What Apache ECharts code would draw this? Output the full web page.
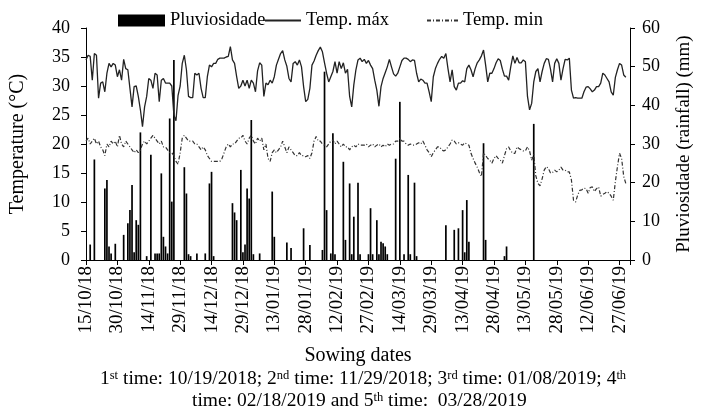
<!DOCTYPE html>
<html><head><meta charset="utf-8">
<script src="https://cdn.jsdelivr.net/npm/echarts@6/dist/echarts.min.js"></script>
<style>html,body{margin:0;padding:0;background:#fff}#c{width:702px;height:410px}</style>
</head><body><div id="c"></div>
<script>
// x-axis tick labels, one every 15 days from 15/10/18
const tickLabels = ['15/10/18','30/10/18','14/11/18','29/11/18','14/12/18','29/12/18','13/01/19','28/01/19','12/02/19','27/02/19','14/03/19','29/03/19','13/04/19','28/04/19','13/05/19','28/05/19','12/06/19','27/06/19'];

// daily maximum temperature (°C), day 0 = 15/10/18
const tmax = [
34.5,35.3,35.1,31.0,35.6,35.3,27.9,30.5,30.7,29.0,
32.2,33.9,33.3,33.9,33.6,31.6,32.8,31.0,34.6,33.0,
32.8,29.6,26.4,29.9,30.0,28.2,25.9,23.0,26.4,28.2,
31.3,31.0,29.6,32.2,31.9,27.3,31.0,31.3,30.5,30.5,
30.5,30.0,25.0,24.0,28.4,30.0,33.9,35.3,32.8,28.2,
28.0,28.0,32.2,31.9,32.2,29.6,28.0,28.0,31.6,33.6,
33.3,33.9,33.9,34.6,34.8,34.8,34.8,35.0,35.1,36.8,
34.5,33.9,31.6,29.6,30.0,31.0,30.0,31.0,29.6,31.0,
30.5,29.0,32.6,34.0,33.6,28.2,30.5,30.2,31.0,30.5,
31.6,33.6,34.6,35.6,36.1,34.5,33.4,31.3,30.7,33.9,
34.2,33.6,34.5,33.3,29.9,27.3,27.7,29.6,33.6,34.3,
35.3,36.1,36.7,35.9,34.0,32.2,30.7,31.6,32.5,34.2,
32.2,34.2,33.0,34.0,32.2,32.9,28.2,26.4,30.2,32.8,
34.5,34.8,34.2,34.6,33.9,34.4,33.6,33.0,31.0,29.3,
26.5,29.9,31.3,32.3,33.3,34.6,33.3,32.1,31.7,32.2,
33.3,34.4,34.8,34.8,34.6,34.2,34.5,34.4,32.2,30.7,
31.2,31.0,30.5,30.5,29.0,27.3,31.6,33.0,33.9,34.6,
35.1,34.8,35.6,33.0,30.7,32.8,29.9,29.3,30.5,30.5,
30.9,30.7,33.0,33.6,32.8,31.6,33.0,34.0,34.5,35.2,
36.2,33.6,30.7,32.2,32.2,33.0,34.0,34.7,34.4,32.9,
31.7,31.7,31.0,33.3,35.2,33.9,34.9,34.0,34.0,34.5,
34.2,28.2,25.9,27.0,30.7,32.5,33.0,30.7,32.5,33.9,
34.7,34.6,32.9,30.7,33.9,34.7,33.9,31.0,33.0,34.6,
34.5,34.8,29.3,27.9,28.0,27.9,27.9,27.9,29.0,29.8,
29.9,29.5,29.0,29.3,29.9,29.9,30.5,32.2,31.9,31.3,
30.7,29.0,28.4,31.5,32.8,33.9,33.6,31.9,31.5];

// daily minimum temperature (°C)
const tmin = [
20.5,21,20,20.5,21,20,20.5,19.5,19,18,
20,19.5,20.5,20,20.5,19.5,21.5,20,19.5,20.5,
20,19.5,19,18.5,19,18.5,19,20,20.5,20,
20.5,21,21.5,21,20.5,20,20.5,19.5,19.5,19,
18.5,18.5,18,17,16.5,18.5,21,21.5,21,20.5,
20.5,20.5,20,20,19.5,19,19.5,19,18,17.5,
17,17,17,17,17,17.5,18.5,19.5,20,19.5,
20,20,20.5,21,21,21.5,20.5,20,21,21.5,
20.5,20,21,20.5,21,19,20,17.5,17,18.5,
19,18.5,19,19.5,20.5,19.5,18.5,19.5,19,18.5,
18,18,18.5,18,18,17.8,18,17.5,18.5,20.5,
21.3,20.5,20.5,20,19.8,19.5,20,20.5,20.7,20,
20.5,20,19.5,20,19.5,19.5,19,19.5,19.8,19.5,
20,19.8,19.8,19.8,20,19.5,19.8,20,19.5,19.8,
20,19.5,19.8,19.5,20,19.8,20,20,20.5,20.5,
21,20.5,20.5,20,19.8,20,19.8,19.8,20,20.2,
20,20.5,19.8,19,18.5,17.8,18.5,19,19.5,19.5,
19,18.8,19,19.5,20,20.7,20.5,20,20.2,20,
19.8,20.2,20,19.8,18.4,17.5,16.7,16,15.1,14.4,
18.5,18,17.5,17.2,16.7,17.5,18,17.5,17.2,16.7,
18,19.2,19.5,18.8,18.4,18.4,19.5,19.2,19,18.8,
18.8,19.5,18.8,17.2,18.2,14.5,13.2,12.8,14,15.5,
16.1,15.8,15,15.1,15.5,15.2,15.5,16,15.5,15.5,
15.2,15.2,13.8,10.3,10,11.2,12,12.1,12.4,12.3,
11.5,12.5,12.6,11.8,12.3,12.6,11,11.3,11.5,11.8,
11.5,11,10.3,13.5,16.1,18.4,17.5,14.4,13.2];

// daily rainfall (mm)
const rain = [
0,0,4,0,26,0,0,0,0,18.5,
20.7,3.5,1.7,0,4.2,0,0,0,6.5,0,
9.5,12.9,19.4,2,10.3,9.1,33,0,0,1,
0,27.2,0,1.7,1.7,1.7,22.4,6,3.5,1.7,
36.6,15.1,51.7,0,0,0,0,24,17.2,1.5,
1,0,0,1.7,0,0,0,1.7,0,19.8,
22.8,1,0,0,0,0,0,0,0,0,
14.7,12.3,10.3,0,23.3,2,4,18.5,15.9,36.2,
1.5,0,0,1.7,0,0,0,0,0,17.7,
6,0,0,0,0,0,4.5,0,3.1,0,
0,0,0,0,8.2,0,0,3.9,0,0,
0,0,0,2.6,48.7,12.9,0,1.7,32.8,1.5,
0,0,0,25.4,5.2,0,19.8,1.5,11.2,0,
20,1.5,0,0,0,1.5,13.4,1.5,0,10.3,
1.5,4.7,4.3,3.5,1.5,0,0,0,26.2,0,
40.9,0,1.5,0,22,1.5,0,20,1,0,
0,0,0,0,0,0,0,0,0,0,
0,0,9,0,0,0,7.8,0,8.2,0,
12.9,2,15.5,4.7,0,0,0,0,0,0,
30.2,5.2,0,0,0,0,0,0,0,0,
1,3.5,0,0,0,0,0,0,0,0,
0,0,0,0,35.2,0,0,0,0,0,
0,0,0,0,0,0,0,0,0,0,
0,0,0,0,0,0,0,0,0,0,
0,0,0,0,0,0,0,0,0,0,
0,0,0,0,0,0,0,0,0];

const FONT = 'Liberation Serif, DejaVu Serif, serif';
const chart = echarts.init(document.getElementById('c'), null, {renderer: 'canvas'});
const pairs = arr => arr.map((v, i) => [i, v]);
const txt = (s) => ({fontFamily: FONT, fontSize: s, color: '#000'});
const supRich = {s: {fontFamily: FONT, fontSize: 12.5, color: '#000', verticalAlign: 'top', lineHeight: 20}};

chart.setOption({
  animation: false,
  backgroundColor: '#fff',
  textStyle: {fontFamily: FONT},
  grid: {left: 85, right: 60, top: 28, bottom: 150},
  legend: [
    {data: [{name: 'Pluviosidade', icon: 'rect'}], left: 113, top: 6, itemWidth: 47, itemHeight: 12, textStyle: txt(18.5)},
    {data: ['Temp. máx'], left: 259, top: 6, itemWidth: 36, itemHeight: 12, textStyle: txt(18.5),
     itemStyle: {opacity: 0}},
    {data: ['Temp. min'], left: 421, top: 6, itemWidth: 31, itemHeight: 12, textStyle: txt(18.5),
     itemStyle: {opacity: 0}}
  ],
  title: [
    {text: '1{s|st} time: 10/19/2018; 2{s|nd} time: 11/29/2018; 3{s|rd} time: 01/08/2019; 4{s|th}',
     left: 100, top: 369, padding: 0,
     textStyle: {fontFamily: FONT, fontSize: 19.5, fontWeight: 'normal', color: '#000', lineHeight: 20, rich: supRich}},
    {text: 'time: 02/18/2019 and 5{s|th} time:  03/28/2019',
     left: 192, top: 391, padding: 0,
     textStyle: {fontFamily: FONT, fontSize: 19.5, fontWeight: 'normal', color: '#000', lineHeight: 20, rich: supRich}}
  ],
  xAxis: {
    type: 'value', min: 0, max: 260, interval: 15,
    name: 'Sowing dates', nameLocation: 'middle', nameGap: 86,
    nameTextStyle: txt(20),
    axisLine: {lineStyle: {color: '#000', width: 1}},
    axisTick: {length: 5, lineStyle: {color: '#000'}},
    splitLine: {show: false},
    axisLabel: {rotate: 90, margin: 6, fontFamily: FONT, fontSize: 19, color: '#000',
      formatter: v => (v % 15 === 0 && tickLabels[v / 15]) ? tickLabels[v / 15] : ''}
  },
  yAxis: [
    {type: 'value', min: 0, max: 40, interval: 5,
     name: 'Temperature (°C)', nameLocation: 'middle', nameGap: 58, nameRotate: 90, nameTextStyle: txt(20),
     axisLine: {show: true, lineStyle: {color: '#000'}},
     axisTick: {show: true, length: 5, lineStyle: {color: '#000'}},
     splitLine: {show: false},
     axisLabel: {margin: 16, fontFamily: FONT, fontSize: 18, color: '#000'}},
    {type: 'value', min: 0, max: 60, interval: 10, position: 'right',
     name: 'Pluviosidade (rainfall) (mm)', nameLocation: 'middle', nameGap: 45, nameRotate: 90, nameTextStyle: txt(19),
     axisLine: {show: true, lineStyle: {color: '#000'}},
     axisTick: {show: true, length: 5, lineStyle: {color: '#000'}},
     splitLine: {show: false},
     axisLabel: {margin: 12, fontFamily: FONT, fontSize: 18, color: '#000'}}
  ],
  series: [
    {name: 'Pluviosidade', type: 'bar', yAxisIndex: 1, data: pairs(rain), barWidth: 1.7,
     itemStyle: {color: '#000'}},
    {name: 'Temp. máx', type: 'line', yAxisIndex: 0, data: pairs(tmax), symbol: 'none',
     lineStyle: {color: '#222', width: 1.3}, itemStyle: {color: '#222'}},
    {name: 'Temp. min', type: 'line', yAxisIndex: 0, data: pairs(tmin), symbol: 'none',
     lineStyle: {color: '#333', width: 1.2, type: [4, 2, 1, 2]}, itemStyle: {color: '#333'}}
  ]
});
</script>
</body></html>
